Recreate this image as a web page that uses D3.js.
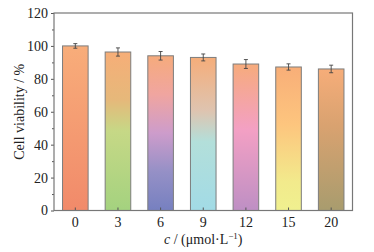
<!DOCTYPE html>
<html>
<head>
<meta charset="utf-8">
<script src="https://cdn.jsdelivr.net/npm/d3@7"></script>
<style>
  body { margin: 0; background: #fff; }
  svg text { font-family: "Liberation Serif", "Times New Roman", serif; fill: #222; }
</style>
</head>
<body>
<svg id="chart" width="374" height="252"></svg>
<script>
// concentrations (umol/L) and viability (%)
const categories = ['0', '3', '6', '9', '12', '15', '20'];
const viability = [100, 96.3, 94, 93, 89, 87.2, 86];
const errors = [1.4, 2.5, 2.6, 2.1, 2.7, 1.9, 2.3];
const yTicks = [0, 20, 40, 60, 80, 100, 120];
// gradient stops per bar, top -> bottom
const barStops = [
  [[0, '#f8ad7a'], [1, '#f18a6a']],
  [[0, '#f6ae78'], [0.3, '#e6b87a'], [0.5, '#c6d886'], [1, '#a4d27f']],
  [[0, '#f6ab7c'], [0.25, '#f0a5a0'], [0.5, '#cd9ccb'], [0.75, '#9590c6'], [1, '#7680c0']],
  [[0, '#f5ad7a'], [0.35, '#dec4b0'], [0.55, '#b3dfda'], [1, '#a2dbe6']],
  [[0, '#f6ab7c'], [0.45, '#f3a0c4'], [1, '#be8fc4']],
  [[0, '#f8ae78'], [0.4, '#fdc57e'], [0.8, '#f2ea8c'], [1, '#f0f08f']],
  [[0, '#f6ad79'], [0.4, '#d9a270'], [1, '#a89c6e']]
];

const svg = d3.select('#chart');
const margin = {top: 13, right: 21.5, bottom: 41.5, left: 54};
const width = 374 - margin.left - margin.right;
const height = 252 - margin.top - margin.bottom;

const defs = svg.append('defs');
barStops.forEach((stops, i) => {
  const g = defs.append('linearGradient').attr('id', 'grad' + i)
    .attr('x1', 0).attr('y1', 0).attr('x2', 0).attr('y2', 1);
  stops.forEach(s => g.append('stop').attr('offset', s[0]).attr('stop-color', s[1]));
});

const g = svg.append('g').attr('transform', `translate(${margin.left},${margin.top})`);

const x = d3.scaleBand().domain(categories).range([0, width]).paddingInner(0.4).paddingOuter(0.2);
const y = d3.scaleLinear().domain([0, 120]).range([height, 0]);

// bars
const data = categories.map((c, i) => ({c: c, v: viability[i], e: errors[i], i: i}));
g.selectAll('.bar').data(data).enter().append('rect')
  .attr('x', d => x(d.c)).attr('width', x.bandwidth())
  .attr('y', d => y(d.v)).attr('height', d => y(0) - y(d.v))
  .attr('fill', d => `url(#grad${d.i})`)
  .attr('stroke', '#7d7d7d').attr('stroke-width', 1);

// error bars
const eb = g.selectAll('.err').data(data).enter().append('g').attr('stroke', '#444').attr('stroke-width', 0.9);
eb.append('line').attr('x1', d => x(d.c) + x.bandwidth() / 2).attr('x2', d => x(d.c) + x.bandwidth() / 2)
  .attr('y1', d => y(d.v + d.e)).attr('y2', d => y(d.v - d.e));
eb.append('line').attr('x1', d => x(d.c) + x.bandwidth() / 2 - 2).attr('x2', d => x(d.c) + x.bandwidth() / 2 + 2)
  .attr('y1', d => y(d.v + d.e)).attr('y2', d => y(d.v + d.e));
eb.append('line').attr('x1', d => x(d.c) + x.bandwidth() / 2 - 2).attr('x2', d => x(d.c) + x.bandwidth() / 2 + 2)
  .attr('y1', d => y(d.v - d.e)).attr('y2', d => y(d.v - d.e));

// y axis with minor ticks
const yAxis = g.append('g').call(d3.axisLeft(y).tickValues(yTicks).tickSize(3).tickPadding(3));
g.append('g').call(d3.axisLeft(y).tickValues(d3.range(10, 120, 20)).tickSize(2).tickFormat(''))
  .select('.domain').remove();
// x axis, ticks pointing in
const xAxis = g.append('g').attr('transform', `translate(0,${height})`)
  .call(d3.axisBottom(x).tickSize(-3).tickPadding(7));
g.selectAll('.tick line').attr('stroke', '#555');
g.selectAll('.domain').remove();
g.selectAll('.tick text').attr('font-size', 14).attr('fill', '#222');
xAxis.selectAll('.tick text').attr('dy', '0.71em');

// frame
g.append('rect').attr('x', 0).attr('y', 0).attr('width', width).attr('height', height)
  .attr('fill', 'none').attr('stroke', '#777').attr('stroke-width', 1.2);

// axis titles
svg.append('text').attr('text-anchor', 'middle')
  .attr('transform', `translate(24,${margin.top + height / 2})rotate(-90)`)
  .attr('font-size', 14).text('Cell viability / %');
const xt = svg.append('text').attr('text-anchor', 'middle')
  .attr('x', margin.left + width / 2).attr('y', 244).attr('font-size', 14);
xt.append('tspan').attr('font-style', 'italic').text('c');
xt.append('tspan').text(' / (μmol·L');
xt.append('tspan').attr('font-size', 9).attr('dy', -5).text('−1');
xt.append('tspan').attr('dy', 5).text(')');
</script>
</body>
</html>
